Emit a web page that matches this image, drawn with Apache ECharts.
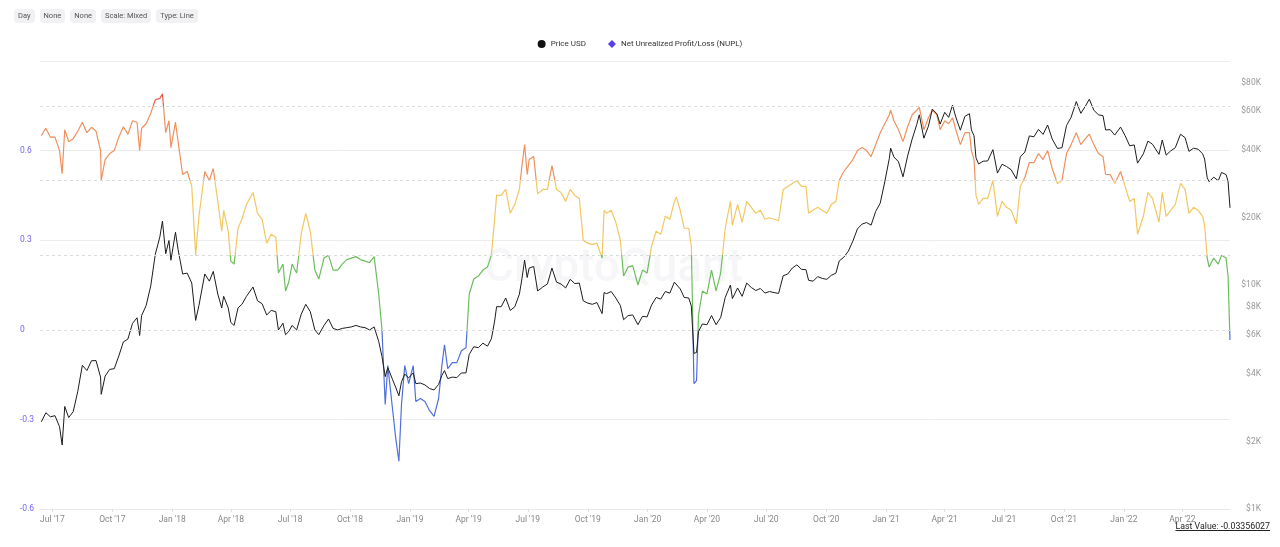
<!DOCTYPE html>
<html>
<head>
<meta charset="utf-8">
<script src="https://cdn.jsdelivr.net/npm/echarts@6/dist/echarts.min.js"></script>
<style>
  body { margin: 0; background: #fff; font-family: Roboto, "Noto Sans", sans-serif; }
  #wrap { position: relative; width: 1280px; height: 547px; overflow: hidden; }
  #chart { position: absolute; left: 0; top: 0; width: 1280px; height: 547px; }
  .pills { position: absolute; left: 14px; top: 9px; display: flex; gap: 5px; }
  .pill { background: #f1f1f3; color: #555; font-size: 7.5px; height: 14px; line-height: 14px; padding: 0 4px; border-radius: 4px; }
  .last { position: absolute; right: 10px; top: 521px; font-size: 8.8px; color: #222; text-decoration: underline; }
</style>
</head>
<body>
<div id="wrap">
  <div id="chart"></div>
  <div class="pills">
    <div class="pill">Day</div>
    <div class="pill">None</div>
    <div class="pill">None</div>
    <div class="pill">Scale: Mixed</div>
    <div class="pill">Type: Line</div>
  </div>
  <div class="last">Last Value: -0.03356027</div>
</div>
<script>
// sample dates (roughly weekly, with extra points on the big swings)
const dates = [
  '2017-06-14','2017-06-21','2017-06-28','2017-07-05','2017-07-12','2017-07-16','2017-07-20','2017-07-26',
  '2017-08-02','2017-08-09','2017-08-16','2017-08-23','2017-08-30','2017-09-06','2017-09-13','2017-09-14',
  '2017-09-20','2017-09-27','2017-10-04','2017-10-11','2017-10-18','2017-10-25','2017-11-01','2017-11-08',
  '2017-11-12','2017-11-15','2017-11-22','2017-11-29','2017-12-06','2017-12-13','2017-12-17','2017-12-22',
  '2017-12-27','2017-12-30','2018-01-06','2018-01-10','2018-01-17','2018-01-24','2018-01-31','2018-02-06',
  '2018-02-11','2018-02-20','2018-02-27','2018-03-05','2018-03-12','2018-03-18','2018-03-21','2018-03-28',
  '2018-04-01','2018-04-06','2018-04-12','2018-04-18','2018-04-25','2018-05-05','2018-05-12','2018-05-19',
  '2018-05-26','2018-06-02','2018-06-09','2018-06-13','2018-06-20','2018-06-24','2018-06-29','2018-07-04',
  '2018-07-11','2018-07-18','2018-07-25','2018-08-01','2018-08-08','2018-08-14','2018-08-22','2018-08-29',
  '2018-09-05','2018-09-12','2018-09-19','2018-09-26','2018-10-03','2018-10-10','2018-10-17','2018-10-24',
  '2018-10-31','2018-11-07','2018-11-14','2018-11-19','2018-11-24','2018-11-28','2018-12-05','2018-12-10',
  '2018-12-15','2018-12-19','2018-12-24','2018-12-30','2019-01-06','2019-01-10','2019-01-17','2019-01-24',
  '2019-01-31','2019-02-07','2019-02-14','2019-02-19','2019-02-23','2019-02-28','2019-03-07','2019-03-14',
  '2019-03-21','2019-03-28','2019-04-02','2019-04-09','2019-04-16','2019-04-23','2019-04-30','2019-05-06',
  '2019-05-11','2019-05-14','2019-05-21','2019-05-28','2019-06-04','2019-06-11','2019-06-18','2019-06-22',
  '2019-06-26','2019-06-30','2019-07-03','2019-07-10','2019-07-16','2019-07-24','2019-07-31','2019-08-07',
  '2019-08-14','2019-08-21','2019-08-28','2019-09-04','2019-09-11','2019-09-18','2019-09-24','2019-10-01',
  '2019-10-08','2019-10-15','2019-10-23','2019-10-26','2019-10-30','2019-11-06','2019-11-13','2019-11-20',
  '2019-11-25','2019-12-02','2019-12-09','2019-12-17','2019-12-24','2019-12-31','2020-01-07','2020-01-14',
  '2020-01-21','2020-01-28','2020-02-04','2020-02-11','2020-02-14','2020-02-20','2020-02-26','2020-03-04',
  '2020-03-08','2020-03-12','2020-03-16','2020-03-19','2020-03-25','2020-04-01','2020-04-08','2020-04-15',
  '2020-04-22','2020-04-29','2020-05-07','2020-05-10','2020-05-18','2020-05-25','2020-06-01','2020-06-08',
  '2020-06-15','2020-06-22','2020-06-29','2020-07-06','2020-07-13','2020-07-20','2020-07-27','2020-08-03',
  '2020-08-10','2020-08-17','2020-08-24','2020-08-31','2020-09-04','2020-09-11','2020-09-18','2020-09-25',
  '2020-10-02','2020-10-09','2020-10-16','2020-10-21','2020-10-28','2020-11-04','2020-11-11','2020-11-18',
  '2020-11-25','2020-12-02','2020-12-09','2020-12-16','2020-12-23','2020-12-30','2021-01-06','2021-01-08',
  '2021-01-13','2021-01-20','2021-01-27','2021-02-03','2021-02-10','2021-02-17','2021-02-21','2021-02-28',
  '2021-03-07','2021-03-13','2021-03-20','2021-03-25','2021-04-01','2021-04-07','2021-04-13','2021-04-18',
  '2021-04-25','2021-05-02','2021-05-09','2021-05-12','2021-05-16','2021-05-19','2021-05-23','2021-05-30',
  '2021-06-06','2021-06-14','2021-06-21','2021-06-28','2021-07-05','2021-07-12','2021-07-20','2021-07-26',
  '2021-08-02','2021-08-09','2021-08-16','2021-08-23','2021-08-30','2021-09-06','2021-09-13','2021-09-21',
  '2021-09-28','2021-10-05','2021-10-12','2021-10-20','2021-10-27','2021-11-03','2021-11-09','2021-11-16',
  '2021-11-23','2021-11-30','2021-12-04','2021-12-11','2021-12-18','2021-12-27','2022-01-03','2022-01-10',
  '2022-01-17','2022-01-22','2022-01-31','2022-02-07','2022-02-14','2022-02-24','2022-03-01','2022-03-07',
  '2022-03-14','2022-03-21','2022-03-29','2022-04-05','2022-04-11','2022-04-18','2022-04-25','2022-05-02',
  '2022-05-05','2022-05-09','2022-05-12','2022-05-19','2022-05-26','2022-05-31','2022-06-07','2022-06-10',
  '2022-06-13'
];

// BTC price, USD
const priceUsd = [
  2450,2690,2580,2610,2330,1930,2870,2560,
  2720,3350,4380,4150,4590,4600,3880,3250,
  3920,4200,4230,4820,5570,5740,6740,7140,
  5950,7300,8100,9900,13700,16400,19300,13800,
  15800,12900,17200,14400,11200,11300,10200,6950,
  8100,11200,10400,11500,9100,7900,8900,7900,
  6800,6600,7900,8200,8900,9800,8500,8250,
  7350,7700,7600,6300,6750,6000,6200,6600,
  6300,7400,8200,7600,6300,6000,6600,7050,
  6400,6300,6400,6450,6500,6600,6500,6450,
  6300,6500,5600,4800,3900,4280,3800,3500,
  3200,3700,4000,3850,4050,3630,3650,3580,
  3450,3400,3600,3950,4150,3820,3880,3860,
  4050,4050,4900,5300,5250,5500,5330,5750,
  6900,8000,8000,8750,7700,8000,9100,10700,
  12900,10800,11900,12100,9400,9800,10100,11900,
  10300,10100,9700,10600,10150,10200,8500,8300,
  8200,8350,7450,9250,9150,9350,8750,8100,
  7000,7300,7350,6650,7250,7200,8150,8800,
  8650,9350,9200,10300,10350,9600,8800,8750,
  8050,4950,5000,6200,6700,6650,7300,6650,
  7150,8800,10000,8700,9700,8900,10200,9750,
  9450,9650,9200,9350,9250,9170,11000,11200,
  11900,12300,11750,11700,10500,10400,10900,10700,
  10600,11050,11300,12800,13300,14150,15700,17800,
  18700,19000,18500,21300,23200,28900,36800,40800,
  37300,35500,30400,37600,44800,52000,57500,45200,
  51200,61000,58100,52300,59000,56000,63500,56200,
  49100,56600,58200,49200,46400,37000,34700,35700,
  35800,40200,31600,34600,33800,32700,29800,37300,
  39200,46300,45900,49500,47000,51800,44900,40700,
  41000,51500,56000,65900,58400,62900,67500,60300,
  57500,57000,49200,49400,46700,50700,46400,41800,
  42200,35000,38500,43900,42500,38300,44400,38000,
  39700,41000,47100,45500,39500,40800,40400,38500,
  36500,30100,28900,30300,29200,31800,31100,29100,
  22100
];

// Net Unrealized Profit/Loss
const nupl = [
  0.65,0.675,0.645,0.645,0.60,0.523,0.67,0.63,
  0.64,0.665,0.695,0.66,0.678,0.665,0.60,0.50,
  0.57,0.59,0.60,0.645,0.68,0.655,0.70,0.695,
  0.60,0.675,0.69,0.725,0.77,0.775,0.79,0.66,
  0.70,0.61,0.695,0.63,0.52,0.53,0.48,0.25,
  0.38,0.53,0.50,0.54,0.43,0.33,0.40,0.33,
  0.23,0.22,0.34,0.37,0.42,0.46,0.39,0.37,
  0.29,0.32,0.31,0.19,0.22,0.13,0.16,0.22,
  0.19,0.32,0.39,0.33,0.20,0.17,0.24,0.25,
  0.20,0.20,0.22,0.235,0.24,0.245,0.235,0.23,
  0.225,0.245,0.12,0.0,-0.25,-0.12,-0.26,-0.36,
  -0.44,-0.25,-0.12,-0.18,-0.12,-0.24,-0.23,-0.24,
  -0.27,-0.29,-0.23,-0.12,-0.05,-0.13,-0.11,-0.11,
  -0.07,-0.06,0.12,0.17,0.18,0.20,0.21,0.25,
  0.37,0.45,0.45,0.47,0.39,0.42,0.47,0.55,
  0.62,0.52,0.57,0.58,0.455,0.47,0.47,0.55,
  0.47,0.46,0.43,0.47,0.45,0.44,0.30,0.29,
  0.285,0.29,0.24,0.40,0.39,0.40,0.36,0.30,
  0.18,0.21,0.215,0.15,0.20,0.19,0.28,0.33,
  0.32,0.38,0.37,0.43,0.445,0.40,0.34,0.34,
  0.28,-0.18,-0.17,0.05,0.13,0.12,0.20,0.13,
  0.19,0.34,0.43,0.35,0.42,0.36,0.43,0.41,
  0.39,0.40,0.37,0.375,0.37,0.365,0.47,0.48,
  0.49,0.50,0.48,0.48,0.39,0.40,0.41,0.40,
  0.39,0.42,0.43,0.50,0.53,0.55,0.57,0.60,
  0.61,0.60,0.58,0.62,0.66,0.69,0.72,0.735,
  0.70,0.67,0.63,0.68,0.72,0.735,0.745,0.67,
  0.71,0.735,0.72,0.67,0.70,0.69,0.71,0.67,
  0.62,0.66,0.66,0.60,0.57,0.45,0.42,0.44,
  0.44,0.50,0.38,0.43,0.41,0.40,0.355,0.48,
  0.51,0.56,0.56,0.59,0.57,0.60,0.54,0.49,
  0.50,0.59,0.62,0.66,0.62,0.64,0.655,0.62,
  0.59,0.58,0.52,0.52,0.49,0.53,0.48,0.43,
  0.44,0.32,0.38,0.46,0.44,0.36,0.46,0.38,
  0.40,0.42,0.49,0.47,0.39,0.41,0.40,0.38,
  0.35,0.24,0.21,0.24,0.22,0.25,0.24,0.18,
  -0.034
];

const tickDates = [
  '2017-07-01','2017-10-01','2018-01-01','2018-04-01','2018-07-01','2018-10-01','2019-01-01',
  '2019-04-01','2019-07-01','2019-10-01','2020-01-01','2020-04-01','2020-07-01','2020-10-01',
  '2021-01-01','2021-04-01','2021-07-01','2021-10-01','2022-01-01','2022-04-01'
];
const priceTicks = [1000, 2000, 4000, 6000, 8000, 10000, 20000, 40000, 60000, 80000];
const zoneLevels = [0, 0.25, 0.5, 0.75];

const MONTHS = ['Jan','Feb','Mar','Apr','May','Jun','Jul','Aug','Sep','Oct','Nov','Dec'];
const font = 'Roboto';
const ts = function (s) { return Date.parse(s + 'T00:00:00Z'); };
const tickTs = tickDates.map(ts);

var myChart = echarts.init(document.getElementById('chart'));
myChart.setOption({
  animation: false,
  textStyle: { fontFamily: font },
  graphic: [{
    type: 'text', left: 484, top: 246, z: 0, silent: true,
    style: { text: 'CryptoQuant', fontSize: 46, fontWeight: 500, fontFamily: font, fill: '#f6f6f8' }
  }],
  legend: {
    top: 35,
    left: 'center',
    itemWidth: 8,
    itemHeight: 8,
    itemGap: 22,
    textStyle: { fontSize: 8, color: '#333', fontFamily: font },
    data: [
      { name: 'Price USD', icon: 'circle', itemStyle: { color: '#111' } },
      { name: 'Net Unrealized Profit/Loss (NUPL)', icon: 'diamond', itemStyle: { color: '#5a3ee6' } }
    ]
  },
  grid: { left: 40, right: 50, top: 61, bottom: 38 },
  xAxis: {
    type: 'value',
    min: ts('2017-06-12'),
    max: ts('2022-06-13'),
    axisLine: { onZero: false, lineStyle: { color: '#e8e8e8' } },
    axisTick: { show: true, customValues: tickTs, length: 3, lineStyle: { color: '#e0e0e0' } },
    splitLine: { show: false },
    axisLabel: {
      customValues: tickTs,
      color: '#888',
      fontSize: 8.5,
      margin: 6,
      formatter: function (v) {
        var d = new Date(v);
        return MONTHS[d.getUTCMonth()] + " '" + String(d.getUTCFullYear()).slice(2);
      }
    }
  },
  yAxis: [
    {
      type: 'value',
      min: -0.6,
      max: 0.9,
      interval: 0.3,
      position: 'left',
      axisLine: { show: false },
      axisTick: { show: false },
      splitLine: { lineStyle: { color: ['#ececec', '#ececec', 'rgba(0,0,0,0)', '#ececec', '#ececec', '#ececec'] } },
      axisLabel: {
        color: '#7566ee',
        fontSize: 8.5,
        align: 'left',
        margin: 20,
        formatter: function (v) { return v > 0.85 ? '' : String(+v.toFixed(1)); }
      }
    },
    {
      type: 'log',
      logBase: 10,
      min: 1000,
      max: 100000,
      position: 'right',
      show: false,
      splitLine: { show: false }
    },
    {
      // label-only axis for the log price scale
      type: 'value',
      min: 3,
      max: 5,
      position: 'right',
      axisLine: { show: false },
      axisTick: { show: false },
      splitLine: { show: false },
      axisLabel: {
        customValues: priceTicks.map(function (p) { return Math.log10(p); }),
        color: '#999',
        fontSize: 8.5,
        align: 'right',
        margin: 31,
        formatter: function (v) { return '$' + Math.round(Math.pow(10, v) / 1000) + 'K'; }
      }
    }
  ],
  visualMap: {
    show: false,
    type: 'piecewise',
    seriesIndex: 0,
    dimension: 1,
    pieces: [
      { lt: 0, color: '#4f6fdc' },
      { gte: 0, lt: 0.25, color: '#6cbd5c' },
      { gte: 0.25, lt: 0.5, color: '#f1c760' },
      { gte: 0.5, lt: 0.75, color: '#f0905c' },
      { gte: 0.75, color: '#e4604e' }
    ]
  },
  series: [
    {
      name: 'Net Unrealized Profit/Loss (NUPL)',
      type: 'line',
      yAxisIndex: 0,
      showSymbol: false,
      z: 3,
      itemStyle: { color: '#5a3ee6' },
      lineStyle: { width: 1.2 },
      data: dates.map(function (d, i) { return [ts(d), nupl[i]]; }),
      markLine: {
        silent: true,
        symbol: 'none',
        label: { show: false },
        lineStyle: { type: [3, 3], color: '#dcdcdc', width: 1 },
        data: zoneLevels.map(function (v) { return { yAxis: v }; })
      }
    },
    {
      name: 'Price USD',
      type: 'line',
      yAxisIndex: 1,
      showSymbol: false,
      z: 4,
      itemStyle: { color: '#111' },
      lineStyle: { width: 1, color: '#1c1c1c' },
      data: dates.map(function (d, i) { return [ts(d), priceUsd[i]]; })
    }
  ]
});
</script>
</body>
</html>
